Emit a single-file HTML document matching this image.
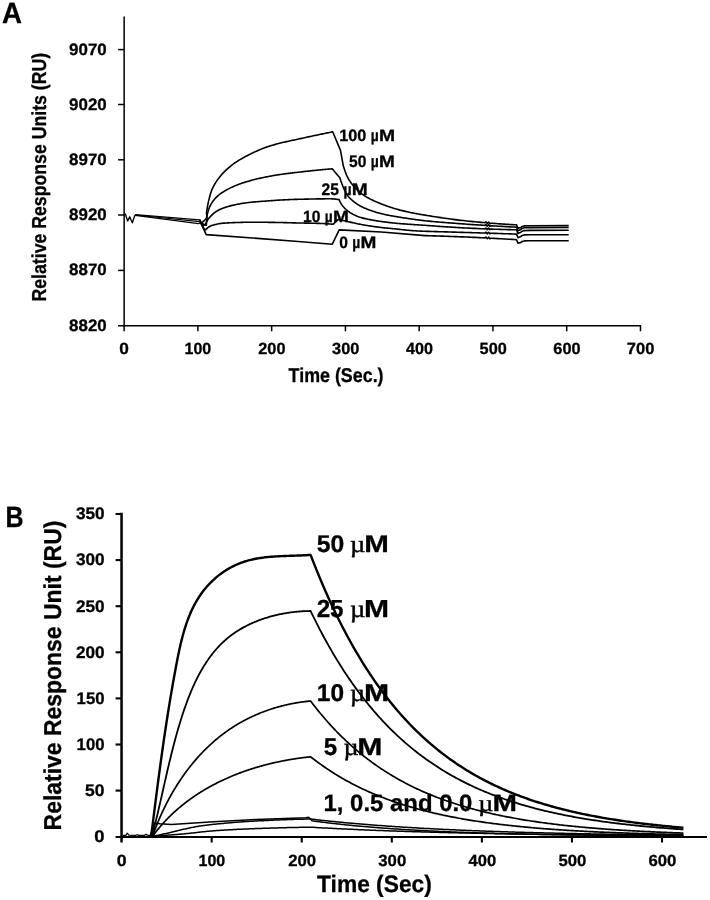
<!DOCTYPE html>
<html><head><meta charset="utf-8"><title>SPR sensorgrams</title>
<style>html,body{margin:0;padding:0;background:#fff}svg{display:block;will-change:transform;filter:grayscale(1)}text{font-family:"Liberation Sans",sans-serif;text-rendering:geometricPrecision}</style>
</head><body>
<svg width="710" height="900" viewBox="0 0 710 900">
<rect width="710" height="900" fill="#fff"/>
<line x1="124.15" y1="16.50" x2="124.15" y2="331.30" stroke="#000" stroke-width="1.5"/>
<line x1="118.10" y1="325.65" x2="641.10" y2="325.65" stroke="#000" stroke-width="1.5"/>
<line x1="118.10" y1="49.60" x2="124.15" y2="49.60" stroke="#000" stroke-width="1.5"/>
<line x1="118.10" y1="104.50" x2="124.15" y2="104.50" stroke="#000" stroke-width="1.5"/>
<line x1="118.10" y1="159.80" x2="124.15" y2="159.80" stroke="#000" stroke-width="1.5"/>
<line x1="118.10" y1="215.00" x2="124.15" y2="215.00" stroke="#000" stroke-width="1.5"/>
<line x1="118.10" y1="270.40" x2="124.15" y2="270.40" stroke="#000" stroke-width="1.5"/>
<line x1="197.91" y1="325.65" x2="197.91" y2="331.30" stroke="#000" stroke-width="1.5"/>
<line x1="271.67" y1="325.65" x2="271.67" y2="331.30" stroke="#000" stroke-width="1.5"/>
<line x1="345.43" y1="325.65" x2="345.43" y2="331.30" stroke="#000" stroke-width="1.5"/>
<line x1="419.19" y1="325.65" x2="419.19" y2="331.30" stroke="#000" stroke-width="1.5"/>
<line x1="492.95" y1="325.65" x2="492.95" y2="331.30" stroke="#000" stroke-width="1.5"/>
<line x1="566.71" y1="325.65" x2="566.71" y2="331.30" stroke="#000" stroke-width="1.5"/>
<line x1="640.47" y1="325.65" x2="640.47" y2="331.30" stroke="#000" stroke-width="1.5"/>
<g font-family="Liberation Sans" font-weight="bold" fill="#000" stroke="#000" stroke-width="0.3" stroke-linejoin="round">
<text transform="matrix(0.9418 0 0 1 1.99 23.00)" font-size="29.38">A</text>
<text transform="matrix(1.0254 0 0 1 69.09 54.60)" font-size="16.49">9070</text>
<text transform="matrix(1.0254 0 0 1 69.09 109.50)" font-size="16.49">9020</text>
<text transform="matrix(1.0254 0 0 1 69.09 164.80)" font-size="16.49">8970</text>
<text transform="matrix(1.0254 0 0 1 69.09 220.00)" font-size="16.49">8920</text>
<text transform="matrix(1.0254 0 0 1 69.09 275.40)" font-size="16.49">8870</text>
<text transform="matrix(1.0254 0 0 1 69.09 330.65)" font-size="16.49">8820</text>
<text transform="matrix(1.0667 0 0 1 119.35 353.90)" font-size="16.20">0</text>
<text transform="matrix(0.9861 0 0 1 184.57 353.90)" font-size="16.20">100</text>
<text transform="matrix(1.0058 0 0 1 258.32 353.90)" font-size="16.20">200</text>
<text transform="matrix(1.0058 0 0 1 332.08 353.90)" font-size="16.20">300</text>
<text transform="matrix(0.9962 0 0 1 406.09 353.90)" font-size="16.20">400</text>
<text transform="matrix(1.0058 0 0 1 479.60 353.90)" font-size="16.20">500</text>
<text transform="matrix(1.0058 0 0 1 553.36 353.90)" font-size="16.20">600</text>
<text transform="matrix(1.0157 0 0 1 626.86 353.90)" font-size="16.20">700</text>
<text transform="matrix(0.8967 0 0 1 288.58 382.10)" font-size="19.93">Time (Sec.)</text>
<text transform="translate(45.70 300.40) rotate(-90) translate(-1.09 0) scale(0.8752 1)" font-size="20.22">Relative Response Units (RU)</text>
<text transform="matrix(0.9864 0 0 1 339.31 140.60)" font-size="16.44">100</text>
<text transform="matrix(0.8400 0 0 1 370.66 140.60)" font-size="16.44">µ</text>
<text transform="matrix(1.1739 0 0 1 378.93 140.60)" font-size="16.44">M</text>
<text transform="matrix(0.9391 0 0 1 349.03 167.40)" font-size="16.58">50</text>
<text transform="matrix(0.8400 0 0 1 370.66 167.40)" font-size="16.58">µ</text>
<text transform="matrix(1.1489 0 0 1 378.95 167.40)" font-size="16.58">M</text>
<text transform="matrix(0.9352 0 0 1 321.43 195.30)" font-size="16.73">25</text>
<text transform="matrix(0.8400 0 0 1 343.46 195.30)" font-size="16.73">µ</text>
<text transform="matrix(1.1489 0 0 1 351.75 195.30)" font-size="16.73">M</text>
<text transform="matrix(0.9576 0 0 1 303.04 221.70)" font-size="16.29">10</text>
<text transform="matrix(0.8400 0 0 1 324.76 221.70)" font-size="16.29">µ</text>
<text transform="matrix(1.1739 0 0 1 333.03 221.70)" font-size="16.29">M</text>
<text transform="matrix(0.9419 0 0 1 339.19 247.70)" font-size="16.58">0</text>
<text transform="matrix(0.8400 0 0 1 352.16 247.70)" font-size="16.58">µ</text>
<text transform="matrix(1.1489 0 0 1 360.45 247.70)" font-size="16.58">M</text>
</g>
<polyline points="124.60,213.60 125.60,214.60 127.60,221.10 129.70,216.80 132.30,222.80 134.80,215.60 135.40,214.80" fill="none" stroke="#000" stroke-width="1.35" stroke-linejoin="round" stroke-linecap="butt" />
<polyline points="135.20,214.70 199.60,219.80 201.30,223.20" fill="none" stroke="#000" stroke-width="1.2" stroke-linejoin="round" stroke-linecap="butt" />
<polyline points="135.20,215.00 199.50,221.70 201.00,222.80" fill="none" stroke="#000" stroke-width="1.2" stroke-linejoin="round" stroke-linecap="butt" />
<polyline points="135.20,215.30 198.50,223.70 200.60,222.60" fill="none" stroke="#000" stroke-width="1.2" stroke-linejoin="round" stroke-linecap="butt" />
<polyline points="199.90,219.50 201.30,223.20 206.30,225.20 207.00,218.50 206.50,212.30 207.50,206.31 208.50,201.37 209.50,197.32 210.50,193.77 211.50,190.81 212.50,188.42 213.50,186.36 214.50,184.53 215.50,182.89 216.50,181.36 217.50,179.90 218.50,178.50 219.50,177.18 220.50,175.94 221.50,174.76 222.50,173.65 223.50,172.59 224.50,171.57 225.50,170.60 226.50,169.67 227.50,168.78 228.50,167.91 229.50,167.07 230.50,166.26 231.50,165.46 232.50,164.68 233.50,163.93 234.50,163.20 235.50,162.50 236.50,161.82 237.50,161.17 238.50,160.55 239.50,159.93 240.50,159.34 241.50,158.75 242.50,158.18 243.50,157.62 244.50,157.07 245.50,156.54 246.50,156.01 247.50,155.49 248.50,154.98 249.50,154.48 250.50,153.99 251.50,153.50 252.50,153.02 253.50,152.54 254.50,152.07 255.50,151.61 256.50,151.15 257.50,150.70 258.50,150.25 259.50,149.82 260.50,149.40 261.50,148.98 262.50,148.58 263.50,148.20 264.50,147.82 265.50,147.46 266.50,147.12 267.50,146.78 268.50,146.45 269.50,146.13 270.50,145.82 271.50,145.51 272.50,145.22 273.50,144.93 274.50,144.64 275.50,144.36 276.50,144.09 277.50,143.82 278.50,143.56 279.50,143.30 280.50,143.05 281.50,142.80 282.50,142.56 283.50,142.32 284.50,142.09 285.50,141.87 286.50,141.64 287.50,141.42 288.50,141.20 289.50,140.99 290.50,140.77 291.50,140.56 292.50,140.34 293.50,140.13 294.50,139.91 295.50,139.69 296.50,139.47 297.50,139.25 298.50,139.03 299.50,138.81 300.50,138.60 301.50,138.38 302.50,138.16 303.50,137.94 304.50,137.73 305.50,137.51 306.50,137.29 307.50,137.08 308.50,136.86 309.50,136.65 310.50,136.43 311.50,136.22 312.50,136.01 313.50,135.79 314.50,135.58 315.50,135.37 316.50,135.16 317.50,134.95 318.50,134.73 319.50,134.52 320.50,134.31 321.50,134.11 322.50,133.90 323.50,133.69 324.50,133.48 325.50,133.27 326.50,133.07 327.50,132.86 328.50,132.66 329.50,132.45 330.50,132.25 331.50,132.04 332.50,131.84 332.70,131.80 340.50,150.40 343.30,165.80 344.30,168.92 345.30,171.83 346.30,174.45 347.30,176.70 348.30,178.59 349.30,180.28 350.30,181.81 351.30,183.20 352.30,184.49 353.30,185.72 354.30,186.89 355.30,187.99 356.30,189.04 357.30,190.03 358.30,190.96 359.30,191.85 360.30,192.68 361.30,193.48 362.30,194.24 363.30,194.96 364.30,195.65 365.30,196.30 366.30,196.92 367.30,197.50 368.30,198.05 369.30,198.58 370.30,199.10 371.30,199.59 372.30,200.07 373.30,200.54 374.30,200.99 375.30,201.43 376.30,201.86 377.30,202.28 378.30,202.70 379.30,203.10 380.30,203.50 381.30,203.90 382.30,204.29 383.30,204.68 384.30,205.06 385.30,205.43 386.30,205.80 387.30,206.16 388.30,206.52 389.30,206.86 390.30,207.20 391.30,207.53 392.30,207.86 393.30,208.17 394.30,208.48 395.30,208.77 396.30,209.06 397.30,209.34 398.30,209.61 399.30,209.88 400.30,210.15 401.30,210.40 402.30,210.65 403.30,210.90 404.30,211.14 405.30,211.37 406.30,211.60 407.30,211.83 408.30,212.04 409.30,212.26 410.30,212.47 411.30,212.67 412.30,212.87 413.30,213.07 414.30,213.27 415.30,213.46 416.30,213.65 417.30,213.83 418.30,214.01 419.30,214.19 420.30,214.36 421.30,214.53 422.30,214.69 423.30,214.85 424.30,215.00 425.00,215.10 425.00,215.10 427.00,215.44 429.00,215.77 431.00,216.09 433.00,216.42 435.00,216.73 437.00,217.05 439.00,217.35 441.00,217.66 443.00,217.95 445.00,218.24 447.00,218.53 449.00,218.81 451.00,219.08 453.00,219.35 455.00,219.60 457.00,219.86 459.00,220.10 461.00,220.34 463.00,220.56 465.00,220.79 467.00,221.00 469.00,221.20 471.00,221.40 473.00,221.59 475.00,221.78 477.00,221.97 479.00,222.15 481.00,222.33 483.00,222.51 485.00,222.69 486.00,221.87 487.30,223.58 488.60,222.09 489.90,223.70 491.00,223.19 492.00,223.27 494.00,223.42 496.00,223.57 498.00,223.72 500.00,223.86 502.00,224.00 504.00,224.13 506.00,224.25 508.00,224.37 510.00,224.48 512.00,224.59 514.00,224.69 516.00,224.78 516.50,224.80 518.00,228.40 519.30,227.80 520.60,227.70 522.20,226.50 524.20,225.90 530.00,225.70 568.70,225.60" fill="none" stroke="#000" stroke-width="1.6" stroke-linejoin="round" stroke-linecap="butt" />
<polyline points="201.30,223.20 205.10,219.80 206.50,218.00 207.50,213.60 208.50,209.79 209.50,207.20 210.50,205.15 211.50,203.37 212.50,201.82 213.50,200.46 214.50,199.24 215.50,198.13 216.50,197.09 217.50,196.13 218.50,195.26 219.50,194.45 220.50,193.70 221.50,193.00 222.50,192.34 223.50,191.71 224.50,191.11 225.50,190.52 226.50,189.95 227.50,189.40 228.50,188.87 229.50,188.36 230.50,187.86 231.50,187.39 232.50,186.92 233.50,186.47 234.50,186.04 235.50,185.62 236.50,185.22 237.50,184.82 238.50,184.44 239.50,184.07 240.50,183.71 241.50,183.36 242.50,183.03 243.50,182.70 244.50,182.38 245.50,182.07 246.50,181.76 247.50,181.47 248.50,181.18 249.50,180.90 250.50,180.62 251.50,180.35 252.50,180.08 253.50,179.82 254.50,179.56 255.50,179.31 256.50,179.07 257.50,178.83 258.50,178.59 259.50,178.36 260.50,178.14 261.50,177.92 262.50,177.70 263.50,177.49 264.50,177.28 265.50,177.08 266.50,176.88 267.50,176.68 268.50,176.49 269.50,176.30 270.50,176.11 271.50,175.93 272.50,175.75 273.50,175.57 274.50,175.40 275.50,175.23 276.50,175.07 277.50,174.91 278.50,174.75 279.50,174.60 280.50,174.45 281.50,174.31 282.50,174.17 283.50,174.03 284.50,173.89 285.50,173.76 286.50,173.63 287.50,173.50 288.50,173.38 289.50,173.25 290.50,173.13 291.50,173.01 292.50,172.89 293.50,172.77 294.50,172.66 295.50,172.54 296.50,172.43 297.50,172.31 298.50,172.20 299.50,172.08 300.50,171.97 301.50,171.86 302.50,171.75 303.50,171.63 304.50,171.52 305.50,171.41 306.50,171.30 307.50,171.19 308.50,171.09 309.50,170.98 310.50,170.87 311.50,170.77 312.50,170.66 313.50,170.56 314.50,170.46 315.50,170.35 316.50,170.25 317.50,170.15 318.50,170.05 319.50,169.95 320.50,169.86 321.50,169.76 322.50,169.66 323.50,169.57 324.50,169.48 325.50,169.39 326.50,169.29 327.50,169.20 328.50,169.12 329.50,169.03 330.50,168.94 331.50,168.86 332.20,168.80 339.80,177.80 340.80,180.80 341.80,183.59 342.80,186.07 343.80,188.39 344.80,190.60 345.80,192.62 346.80,194.37 347.80,195.80 348.80,197.01 349.80,198.08 350.80,199.04 351.80,199.93 352.80,200.77 353.80,201.59 354.80,202.39 355.80,203.14 356.80,203.87 357.80,204.55 358.80,205.18 359.80,205.78 360.80,206.32 361.80,206.83 362.80,207.32 363.80,207.77 364.80,208.20 365.80,208.61 366.80,209.01 367.80,209.39 368.80,209.77 369.80,210.13 370.80,210.49 371.80,210.85 372.80,211.19 373.80,211.53 374.80,211.85 375.80,212.17 376.80,212.47 377.80,212.76 378.80,213.05 379.80,213.32 380.80,213.58 381.80,213.82 382.80,214.06 383.80,214.28 384.80,214.50 385.80,214.71 386.80,214.92 387.80,215.12 388.80,215.31 389.80,215.50 390.80,215.68 391.80,215.86 392.80,216.04 393.80,216.22 394.80,216.40 395.80,216.57 396.80,216.74 397.80,216.91 398.80,217.07 399.80,217.24 400.80,217.39 401.80,217.55 402.80,217.71 403.80,217.86 404.80,218.01 405.80,218.16 406.80,218.31 407.80,218.45 408.80,218.60 409.80,218.74 410.80,218.89 411.80,219.03 412.80,219.17 413.80,219.31 414.80,219.45 415.80,219.59 416.80,219.73 417.80,219.86 418.80,220.00 419.80,220.13 420.80,220.26 421.80,220.39 422.80,220.52 423.80,220.65 424.80,220.78 425.00,220.80 425.00,220.80 427.00,220.98 429.00,221.16 431.00,221.33 433.00,221.51 435.00,221.68 437.00,221.85 439.00,222.02 441.00,222.19 443.00,222.35 445.00,222.52 447.00,222.68 449.00,222.84 451.00,223.00 453.00,223.15 455.00,223.31 457.00,223.46 459.00,223.61 461.00,223.76 463.00,223.91 465.00,224.05 467.00,224.19 469.00,224.33 471.00,224.47 473.00,224.60 475.00,224.74 477.00,224.87 479.00,225.01 481.00,225.14 483.00,225.27 485.00,225.40 486.00,224.56 487.30,226.24 488.60,224.72 489.90,226.30 491.00,225.77 492.00,225.83 494.00,225.95 496.00,226.07 498.00,226.19 500.00,226.31 502.00,226.42 504.00,226.54 506.00,226.65 508.00,226.76 510.00,226.86 512.00,226.97 514.00,227.07 516.00,227.17 516.50,227.20 518.00,230.80 519.30,230.20 520.60,229.60 522.20,228.40 524.20,227.80 530.00,227.60 568.70,227.50" fill="none" stroke="#000" stroke-width="1.6" stroke-linejoin="round" stroke-linecap="butt" />
<polyline points="200.60,222.60 203.50,225.20 205.60,224.40 206.30,222.20 207.30,220.56 208.30,219.04 209.30,217.77 210.30,216.64 211.30,215.59 212.30,214.61 213.30,213.71 214.30,212.88 215.30,212.14 216.30,211.47 217.30,210.86 218.30,210.30 219.30,209.77 220.30,209.29 221.30,208.85 222.30,208.44 223.30,208.06 224.30,207.71 225.30,207.38 226.30,207.05 227.30,206.74 228.30,206.45 229.30,206.16 230.30,205.89 231.30,205.63 232.30,205.38 233.30,205.15 234.30,204.92 235.30,204.70 236.30,204.50 237.30,204.30 238.30,204.11 239.30,203.93 240.30,203.75 241.30,203.57 242.30,203.41 243.30,203.25 244.30,203.09 245.30,202.94 246.30,202.80 247.30,202.67 248.30,202.54 249.30,202.42 250.30,202.31 251.30,202.20 252.30,202.10 253.30,202.01 254.30,201.92 255.30,201.83 256.30,201.75 257.30,201.68 258.30,201.60 259.30,201.53 260.30,201.46 261.30,201.39 262.30,201.32 263.30,201.25 264.30,201.18 265.30,201.11 266.30,201.03 267.30,200.96 268.30,200.88 269.30,200.80 270.30,200.73 271.30,200.65 272.30,200.58 273.30,200.50 274.30,200.43 275.30,200.36 276.30,200.30 277.30,200.23 278.30,200.17 279.30,200.11 280.30,200.06 281.30,200.00 282.30,199.95 283.30,199.89 284.30,199.84 285.30,199.79 286.30,199.74 287.30,199.69 288.30,199.64 289.30,199.60 290.30,199.56 291.30,199.52 292.30,199.48 293.30,199.45 294.30,199.42 295.30,199.39 296.30,199.37 297.30,199.34 298.30,199.31 299.30,199.29 300.30,199.26 301.30,199.24 302.30,199.21 303.30,199.19 304.30,199.17 305.30,199.14 306.30,199.12 307.30,199.10 308.30,199.08 309.30,199.06 310.30,199.03 311.30,199.01 312.30,198.99 313.30,198.98 314.30,198.96 315.30,198.94 316.30,198.92 317.30,198.91 318.30,198.89 319.30,198.88 320.30,198.87 321.30,198.86 322.30,198.85 323.30,198.84 324.30,198.83 325.30,198.82 326.30,198.81 327.30,198.81 328.30,198.80 329.30,198.80 330.30,198.80 331.30,198.81 332.30,198.84 333.30,198.91 334.30,199.01 335.30,199.12 336.30,199.24 337.30,199.37 338.30,199.50 339.10,199.60 340.10,201.85 341.10,203.74 342.10,205.19 343.10,206.46 344.10,207.59 345.10,208.59 346.10,209.50 347.10,210.35 348.10,211.14 349.10,211.88 350.10,212.57 351.10,213.21 352.10,213.80 353.10,214.35 354.10,214.85 355.10,215.33 356.10,215.77 357.10,216.19 358.10,216.58 359.10,216.94 360.10,217.27 361.10,217.57 362.10,217.86 363.10,218.13 364.10,218.38 365.10,218.62 366.10,218.84 367.10,219.06 368.10,219.27 369.10,219.47 370.10,219.66 371.10,219.85 372.10,220.03 373.10,220.21 374.10,220.38 375.10,220.55 376.10,220.72 377.10,220.87 378.10,221.03 379.10,221.18 380.10,221.33 381.10,221.47 382.10,221.61 383.10,221.75 384.10,221.89 385.10,222.02 386.10,222.15 387.10,222.28 388.10,222.40 389.10,222.52 390.10,222.64 391.10,222.75 392.10,222.86 393.10,222.97 394.10,223.07 395.10,223.17 396.10,223.27 397.10,223.36 398.10,223.44 399.10,223.53 400.10,223.61 401.10,223.69 402.10,223.77 403.10,223.84 404.10,223.92 405.10,223.99 406.10,224.06 407.10,224.13 408.10,224.20 409.10,224.27 410.10,224.34 411.10,224.41 412.10,224.48 413.10,224.55 414.10,224.62 415.10,224.68 416.10,224.75 417.10,224.82 418.10,224.88 419.10,224.94 420.10,225.01 421.10,225.07 422.10,225.13 423.10,225.19 424.10,225.25 425.00,225.30 425.00,225.30 427.00,225.46 429.00,225.61 431.00,225.77 433.00,225.92 435.00,226.07 437.00,226.21 439.00,226.36 441.00,226.50 443.00,226.64 445.00,226.78 447.00,226.91 449.00,227.04 451.00,227.17 453.00,227.29 455.00,227.41 457.00,227.53 459.00,227.64 461.00,227.75 463.00,227.86 465.00,227.96 467.00,228.06 469.00,228.15 471.00,228.24 473.00,228.33 475.00,228.42 477.00,228.51 479.00,228.59 481.00,228.68 483.00,228.76 485.00,228.84 486.00,227.98 487.30,229.63 488.60,228.08 489.90,229.63 491.00,229.07 492.00,229.11 494.00,229.18 496.00,229.25 498.00,229.31 500.00,229.38 502.00,229.44 504.00,229.50 506.00,229.55 508.00,229.61 510.00,229.66 512.00,229.71 514.00,229.75 516.00,229.79 516.50,229.80 518.00,233.40 519.30,232.80 520.60,232.40 522.20,231.20 524.20,230.60 530.00,230.40 568.70,230.30" fill="none" stroke="#000" stroke-width="1.6" stroke-linejoin="round" stroke-linecap="butt" />
<polyline points="200.60,222.60 204.20,229.00 205.60,229.90 206.60,228.81 207.60,227.81 208.60,227.00 209.60,226.45 210.60,225.98 211.60,225.58 212.60,225.23 213.60,224.92 214.60,224.65 215.60,224.41 216.60,224.19 217.60,223.99 218.60,223.81 219.60,223.64 220.60,223.49 221.60,223.36 222.60,223.25 223.60,223.17 224.60,223.09 225.60,223.02 226.60,222.96 227.60,222.90 228.60,222.84 229.60,222.79 230.60,222.75 231.60,222.70 232.60,222.66 233.60,222.62 234.60,222.59 235.60,222.55 236.60,222.52 237.60,222.49 238.60,222.46 239.60,222.43 240.60,222.40 241.60,222.37 242.60,222.34 243.60,222.32 244.60,222.29 245.60,222.27 246.60,222.25 247.60,222.23 248.60,222.22 249.60,222.21 250.60,222.20 251.60,222.20 252.60,222.20 253.60,222.20 254.60,222.21 255.60,222.21 256.60,222.22 257.60,222.22 258.60,222.23 259.60,222.24 260.60,222.24 261.60,222.25 262.60,222.26 263.60,222.27 264.60,222.29 265.60,222.30 266.60,222.31 267.60,222.32 268.60,222.34 269.60,222.35 270.60,222.36 271.60,222.38 272.60,222.39 273.60,222.41 274.60,222.42 275.60,222.44 276.60,222.45 277.60,222.47 278.60,222.49 279.60,222.50 280.60,222.52 281.60,222.54 282.60,222.56 283.60,222.58 284.60,222.61 285.60,222.64 286.60,222.66 287.60,222.69 288.60,222.72 289.60,222.75 290.60,222.78 291.60,222.81 292.60,222.84 293.60,222.86 294.60,222.89 295.60,222.91 296.60,222.94 297.60,222.96 298.60,222.98 299.60,223.00 300.60,223.02 301.60,223.04 302.60,223.06 303.60,223.07 304.60,223.09 305.60,223.11 306.60,223.13 307.60,223.14 308.60,223.16 309.60,223.18 310.60,223.20 311.60,223.22 312.60,223.24 313.60,223.26 314.60,223.28 315.60,223.30 316.60,223.33 317.60,223.35 318.60,223.38 319.60,223.41 320.60,223.44 321.60,223.47 322.60,223.51 323.60,223.54 324.60,223.58 325.60,223.63 326.60,223.69 327.60,223.77 328.60,223.85 329.60,223.95 330.60,224.05 331.60,224.16 332.60,224.26 333.00,224.30 338.30,219.40 339.30,219.63 340.30,219.86 341.30,220.09 342.30,220.32 343.30,220.55 344.30,220.78 345.30,221.00 346.30,221.23 347.30,221.46 348.30,221.68 349.30,221.91 350.30,222.14 351.30,222.38 352.30,222.61 353.30,222.84 354.30,223.07 355.30,223.29 356.30,223.51 357.30,223.73 358.30,223.93 359.30,224.13 360.30,224.32 361.30,224.50 362.30,224.68 363.30,224.85 364.30,225.03 365.30,225.20 366.30,225.36 367.30,225.53 368.30,225.69 369.30,225.85 370.30,226.00 371.30,226.15 372.30,226.30 373.30,226.45 374.30,226.59 375.30,226.73 376.30,226.87 377.30,227.00 378.30,227.13 379.30,227.26 380.30,227.38 381.30,227.50 382.30,227.62 383.30,227.73 384.30,227.83 385.30,227.93 386.30,228.03 387.30,228.13 388.30,228.22 389.30,228.32 390.30,228.41 391.30,228.50 392.30,228.60 393.30,228.69 394.30,228.79 395.30,228.89 396.30,228.99 397.30,229.10 398.30,229.22 399.30,229.33 400.30,229.45 401.30,229.56 402.30,229.68 403.30,229.79 404.30,229.91 405.30,230.01 406.30,230.12 407.30,230.21 408.30,230.30 409.30,230.38 410.30,230.46 411.30,230.53 412.30,230.61 413.30,230.68 414.30,230.74 415.30,230.81 416.30,230.87 417.30,230.94 418.30,230.99 419.30,231.05 420.30,231.10 421.30,231.15 422.30,231.20 423.30,231.24 424.30,231.28 425.00,231.30 425.00,231.30 427.00,231.35 429.00,231.41 431.00,231.46 433.00,231.52 435.00,231.58 437.00,231.63 439.00,231.69 441.00,231.75 443.00,231.80 445.00,231.86 447.00,231.92 449.00,231.98 451.00,232.03 453.00,232.09 455.00,232.15 457.00,232.21 459.00,232.27 461.00,232.33 463.00,232.39 465.00,232.45 467.00,232.51 469.00,232.57 471.00,232.63 473.00,232.69 475.00,232.75 477.00,232.82 479.00,232.88 481.00,232.94 483.00,233.00 485.00,233.07 486.00,232.20 487.30,233.84 488.60,232.28 489.90,233.82 491.00,233.26 492.00,233.29 494.00,233.35 496.00,233.42 498.00,233.48 500.00,233.55 502.00,233.61 504.00,233.68 506.00,233.75 508.00,233.81 510.00,233.88 512.00,233.95 514.00,234.02 516.00,234.08 516.50,234.10 518.00,237.70 519.30,237.10 520.60,236.70 522.20,235.50 524.20,234.90 530.00,234.70 568.70,234.70" fill="none" stroke="#000" stroke-width="1.6" stroke-linejoin="round" stroke-linecap="butt" />
<polyline points="200.60,222.40 206.20,234.60 295.00,241.20 332.30,244.20 339.20,229.90 381.30,232.00 425.00,235.60 425.00,235.60 427.00,235.65 429.00,235.71 431.00,235.77 433.00,235.83 435.00,235.89 437.00,235.95 439.00,236.02 441.00,236.08 443.00,236.15 445.00,236.22 447.00,236.29 449.00,236.36 451.00,236.44 453.00,236.51 455.00,236.59 457.00,236.67 459.00,236.75 461.00,236.83 463.00,236.91 465.00,236.99 467.00,237.07 469.00,237.16 471.00,237.24 473.00,237.33 475.00,237.42 477.00,237.51 479.00,237.61 481.00,237.70 483.00,237.80 485.00,237.90 486.00,237.05 487.30,238.72 488.60,237.18 489.90,238.75 491.00,238.21 492.00,238.26 494.00,238.37 496.00,238.48 498.00,238.59 500.00,238.71 502.00,238.82 504.00,238.94 506.00,239.06 508.00,239.18 510.00,239.30 512.00,239.42 514.00,239.54 516.00,239.67 516.50,239.70 518.00,243.30 519.30,242.70 520.60,242.70 522.20,241.50 524.20,240.90 530.00,240.70 568.70,240.70" fill="none" stroke="#000" stroke-width="1.6" stroke-linejoin="round" stroke-linecap="butt" />
<line x1="121.55" y1="512.80" x2="121.55" y2="842.50" stroke="#000" stroke-width="2.5"/>
<line x1="115.60" y1="837.00" x2="707.00" y2="837.00" stroke="#000" stroke-width="2.2"/>
<line x1="115.60" y1="514.00" x2="121.55" y2="514.00" stroke="#000" stroke-width="2.1"/>
<line x1="115.60" y1="560.10" x2="121.55" y2="560.10" stroke="#000" stroke-width="2.1"/>
<line x1="115.60" y1="606.20" x2="121.55" y2="606.20" stroke="#000" stroke-width="2.1"/>
<line x1="115.60" y1="652.30" x2="121.55" y2="652.30" stroke="#000" stroke-width="2.1"/>
<line x1="115.60" y1="698.40" x2="121.55" y2="698.40" stroke="#000" stroke-width="2.1"/>
<line x1="115.60" y1="744.50" x2="121.55" y2="744.50" stroke="#000" stroke-width="2.1"/>
<line x1="115.60" y1="790.60" x2="121.55" y2="790.60" stroke="#000" stroke-width="2.1"/>
<line x1="211.67" y1="837.00" x2="211.67" y2="842.50" stroke="#000" stroke-width="2.1"/>
<line x1="301.74" y1="837.00" x2="301.74" y2="842.50" stroke="#000" stroke-width="2.1"/>
<line x1="391.81" y1="837.00" x2="391.81" y2="842.50" stroke="#000" stroke-width="2.1"/>
<line x1="481.88" y1="837.00" x2="481.88" y2="842.50" stroke="#000" stroke-width="2.1"/>
<line x1="571.95" y1="837.00" x2="571.95" y2="842.50" stroke="#000" stroke-width="2.1"/>
<line x1="662.02" y1="837.00" x2="662.02" y2="842.50" stroke="#000" stroke-width="2.1"/>
<g font-family="Liberation Sans" font-weight="bold" fill="#000" stroke="#000" stroke-width="0.3" stroke-linejoin="round">
<text transform="matrix(0.8507 0 0 1 5.50 527.00)" font-size="29.38">B</text>
<text transform="matrix(1.0243 0 0 1 75.89 519.30)" font-size="16.77">350</text>
<text transform="matrix(1.0243 0 0 1 75.89 565.40)" font-size="16.77">300</text>
<text transform="matrix(1.0243 0 0 1 75.89 611.50)" font-size="16.77">250</text>
<text transform="matrix(1.0243 0 0 1 75.89 657.60)" font-size="16.77">200</text>
<text transform="matrix(0.9981 0 0 1 76.60 703.70)" font-size="16.77">150</text>
<text transform="matrix(0.9981 0 0 1 76.60 749.80)" font-size="16.77">100</text>
<text transform="matrix(1.0400 0 0 1 85.08 795.90)" font-size="16.77">50</text>
<text transform="matrix(1.1000 0 0 1 94.17 841.90)" font-size="16.77">0</text>
<text transform="matrix(1.0933 0 0 1 116.68 866.20)" font-size="16.20">0</text>
<text transform="matrix(0.9901 0 0 1 198.48 866.20)" font-size="16.20">100</text>
<text transform="matrix(1.0330 0 0 1 288.22 866.20)" font-size="16.20">200</text>
<text transform="matrix(1.0330 0 0 1 378.29 866.20)" font-size="16.20">300</text>
<text transform="matrix(1.0231 0 0 1 468.62 866.20)" font-size="16.20">400</text>
<text transform="matrix(1.0330 0 0 1 558.43 866.20)" font-size="16.20">500</text>
<text transform="matrix(1.0330 0 0 1 648.50 866.20)" font-size="16.20">600</text>
<text transform="matrix(0.9549 0 0 1 317.06 892.30)" font-size="23.85">Time (Sec)</text>
<text transform="translate(60.50 828.80) rotate(-90) translate(-1.64 0) scale(0.9389 1)" font-size="24.44">Relative Response Unit (RU)</text>
<text transform="matrix(1.0240 0 0 1 316.63 552.20)" font-size="24.15">50</text>
<text transform="matrix(1.1020 0 0 1 350.07 552.20)" font-size="24.15"><tspan font-family="Liberation Serif" font-weight="normal" stroke-width="0.45">µ</tspan></text>
<text transform="matrix(1.2235 0 0 1 364.26 552.20)" font-size="24.15">M</text>
<text transform="matrix(0.9846 0 0 1 316.66 617.00)" font-size="24.58">25</text>
<text transform="matrix(1.0800 0 0 1 350.09 617.00)" font-size="24.58"><tspan font-family="Liberation Serif" font-weight="normal" stroke-width="0.45">µ</tspan></text>
<text transform="matrix(1.2235 0 0 1 363.96 617.00)" font-size="24.58">M</text>
<text transform="matrix(1.0082 0 0 1 316.79 701.20)" font-size="24.29">10</text>
<text transform="matrix(1.0800 0 0 1 350.09 701.20)" font-size="24.29"><tspan font-family="Liberation Serif" font-weight="normal" stroke-width="0.45">µ</tspan></text>
<text transform="matrix(1.2418 0 0 1 363.93 701.20)" font-size="24.29">M</text>
<text transform="matrix(0.9917 0 0 1 323.66 755.10)" font-size="24.29">5</text>
<text transform="matrix(1.0800 0 0 1 343.39 755.10)" font-size="24.29"><tspan font-family="Liberation Serif" font-weight="normal" stroke-width="0.45">µ</tspan></text>
<text transform="matrix(1.2418 0 0 1 357.23 755.10)" font-size="24.29">M</text>
<text transform="matrix(1.0090 0 0 1 323.49 811.30)" font-size="23.71">1, 0.5 and 0.0</text>
<text transform="matrix(1.1020 0 0 1 478.37 811.30)" font-size="23.71"><tspan font-family="Liberation Serif" font-weight="normal" stroke-width="0.45">µ</tspan></text>
<text transform="matrix(1.2418 0 0 1 492.54 811.30)" font-size="23.71">M</text>
</g>
<polyline points="122.50,835.40 125.80,835.30 127.30,833.20 128.80,835.20 136.00,835.30 137.20,834.70 138.50,835.40 144.50,835.30 146.00,834.20 147.30,835.20 150.20,835.60 151.20,836.00" fill="none" stroke="#000" stroke-width="1.2" stroke-linejoin="round" stroke-linecap="butt" />
<polyline points="151.20,836.20 151.36,834.94 151.51,833.68 151.67,832.42 151.83,831.16 151.98,829.90 152.14,828.64 152.30,827.39 152.45,826.13 152.61,824.88 152.77,823.63 152.92,822.38 153.08,821.13 153.23,819.88 153.39,818.64 153.55,817.39 153.70,816.15 153.86,814.91 154.01,813.67 154.17,812.43 154.33,811.19 154.48,809.95 154.64,808.71 154.79,807.47 154.95,806.24 155.11,805.00 155.26,803.77 155.42,802.54 155.58,801.31 155.73,800.08 155.89,798.85 156.05,797.62 156.20,796.39 156.36,795.16 156.52,793.94 156.68,792.71 156.84,791.49 156.99,790.26 157.15,789.04 157.31,787.82 157.47,786.60 157.63,785.37 157.79,784.15 157.95,782.93 158.11,781.72 158.27,780.50 158.43,779.28 158.59,778.06 158.75,776.85 158.91,775.63 159.08,774.41 159.24,773.20 159.40,771.98 159.56,770.77 159.73,769.55 159.89,768.34 160.06,767.13 160.22,765.92 160.39,764.70 160.55,763.49 160.72,762.28 160.88,761.07 161.05,759.86 161.22,758.65 161.39,757.44 161.55,756.23 161.72,755.02 161.89,753.81 162.06,752.60 162.23,751.39 162.40,750.18 162.58,748.97 162.75,747.76 162.92,746.55 163.09,745.34 163.27,744.13 163.44,742.92 163.62,741.71 163.79,740.51 163.97,739.30 164.15,738.09 164.32,736.88 164.50,735.67 164.68,734.46 164.86,733.25 165.04,732.04 165.22,730.83 165.41,729.62 165.59,728.41 165.77,727.20 165.96,725.99 166.14,724.78 166.33,723.57 166.51,722.36 166.70,721.14 166.89,719.93 167.08,718.72 167.27,717.51 167.46,716.29 167.65,715.08 167.84,713.87 168.03,712.65 168.23,711.44 168.42,710.22 168.62,709.01 168.82,707.79 169.01,706.57 169.21,705.36 169.41,704.14 169.61,702.92 169.81,701.70 170.02,700.48 170.22,699.26 170.42,698.04 170.63,696.82 170.83,695.59 171.04,694.37 171.25,693.15 171.46,691.92 171.67,690.70 171.88,689.47 172.09,688.24 172.31,687.01 172.52,685.78 172.74,684.55 172.96,683.32 173.17,682.09 173.39,680.86 173.61,679.63 173.84,678.39 174.06,677.16 174.28,675.92 174.51,674.68 174.73,673.44 174.96,672.20 175.19,670.96 175.42,669.72 175.65,668.48 175.88,667.23 176.12,665.99 176.35,664.74 176.59,663.50 176.83,662.25 177.07,661.00 177.31,659.75 177.56,658.50 177.80,657.25 178.05,656.01 178.31,654.76 178.57,653.51 178.83,652.26 179.09,651.02 179.36,649.77 179.63,648.53 179.91,647.28 180.19,646.04 180.47,644.80 180.76,643.57 181.06,642.33 181.36,641.10 181.67,639.86 181.98,638.64 182.30,637.41 182.62,636.19 182.95,634.97 183.29,633.75 183.63,632.54 183.98,631.33 184.34,630.12 184.70,628.92 185.07,627.72 185.45,626.52 185.84,625.33 186.24,624.15 186.64,622.97 187.05,621.79 187.48,620.62 187.91,619.46 188.35,618.30 188.79,617.14 189.25,615.99 189.72,614.85 190.20,613.71 190.69,612.58 191.18,611.46 191.69,610.34 192.21,609.23 192.74,608.12 193.28,607.03 193.84,605.94 194.40,604.85 194.98,603.78 195.56,602.71 196.16,601.65 196.78,600.60 197.40,599.55 198.04,598.52 198.69,597.49 199.35,596.48 200.03,595.47 200.72,594.47 201.42,593.48 202.14,592.50 202.87,591.52 203.61,590.56 204.37,589.61 205.14,588.67 205.92,587.74 206.71,586.82 207.51,585.91 208.33,585.01 209.16,584.12 210.00,583.24 210.86,582.38 211.72,581.53 212.60,580.68 213.48,579.86 214.38,579.04 215.29,578.23 216.21,577.44 217.15,576.66 218.09,575.90 219.04,575.14 220.01,574.40 220.98,573.68 221.97,572.96 222.96,572.26 223.97,571.58 224.98,570.91 226.01,570.25 227.04,569.61 228.09,568.98 229.14,568.37 230.20,567.78 231.28,567.20 232.36,566.63 233.45,566.08 234.55,565.55 235.66,565.03 236.77,564.53 237.90,564.04 239.03,563.57 240.18,563.12 241.33,562.69 242.49,562.27 243.65,561.87 244.83,561.49 246.01,561.13 247.20,560.78 248.40,560.45 249.60,560.13 250.81,559.83 252.03,559.55 253.25,559.28 254.48,559.02 255.71,558.78 256.95,558.55 258.19,558.34 259.43,558.13 260.68,557.94 261.94,557.76 263.20,557.59 264.46,557.43 265.72,557.29 266.99,557.15 268.26,557.02 269.53,556.90 270.80,556.79 272.07,556.68 273.35,556.59 274.62,556.50 275.90,556.41 277.17,556.34 278.45,556.26 279.72,556.20 281.00,556.14 282.27,556.08 283.54,556.03 284.81,555.98 286.08,555.93 287.35,555.88 288.61,555.84 289.88,555.80 291.13,555.76 292.39,555.72 293.64,555.68 294.89,555.64 296.13,555.60 297.37,555.56 298.60,555.52 299.83,555.47 301.05,555.43 302.27,555.37 303.48,555.32 304.68,555.26 305.88,555.20 307.07,555.13 308.26,555.06 309.43,554.98 310.60,554.90 312.10,558.79 313.60,562.62 315.10,566.40 316.60,570.12 318.10,573.80 319.60,577.42 321.10,581.00 322.60,584.52 324.10,588.00 325.60,591.43 327.10,594.81 328.60,598.15 330.10,601.44 331.60,604.68 333.10,607.88 334.60,611.03 336.10,614.14 337.60,617.21 339.10,620.24 340.60,623.22 342.10,626.17 343.60,629.07 345.10,631.93 346.60,634.75 348.10,637.54 349.60,640.28 351.10,642.99 352.60,645.66 354.10,648.29 355.60,650.89 357.10,653.45 358.60,655.98 360.10,658.47 361.60,660.93 363.10,663.35 364.60,665.74 366.10,668.10 367.60,670.42 369.10,672.71 370.60,674.97 372.10,677.20 373.60,679.40 375.10,681.57 376.60,683.71 378.10,685.82 379.60,687.90 381.10,689.95 382.60,691.97 384.10,693.97 385.60,695.93 387.10,697.87 388.60,699.79 390.10,701.67 391.60,703.53 393.10,705.37 394.60,707.18 396.10,708.96 397.60,710.73 399.10,712.46 400.60,714.17 402.10,715.86 403.60,717.53 405.10,719.17 406.60,720.79 408.10,722.39 409.60,723.96 411.10,725.52 412.60,727.05 414.10,728.56 415.60,730.05 417.10,731.52 418.60,732.97 420.10,734.40 421.60,735.81 423.10,737.20 424.60,738.57 426.10,739.92 427.60,741.25 429.10,742.57 430.60,743.87 432.10,745.15 433.60,746.41 435.10,747.65 436.60,748.88 438.10,750.09 439.60,751.28 441.10,752.46 442.60,753.62 444.10,754.76 445.60,755.89 447.10,757.00 448.60,758.10 450.10,759.19 451.60,760.25 453.10,761.31 454.60,762.34 456.10,763.37 457.60,764.38 459.10,765.38 460.60,766.36 462.10,767.33 463.60,768.28 465.10,769.22 466.60,770.15 468.10,771.07 469.60,771.97 471.10,772.87 472.60,773.74 474.10,774.61 475.60,775.47 477.10,776.31 478.60,777.14 480.10,777.96 481.60,778.77 483.10,779.57 484.60,780.35 486.10,781.13 487.60,781.90 489.10,782.65 490.60,783.39 492.10,784.13 493.60,784.85 495.10,785.57 496.60,786.27 498.10,786.96 499.60,787.65 501.10,788.32 502.60,788.99 504.10,789.65 505.60,790.29 507.10,790.93 508.60,791.56 510.10,792.18 511.60,792.80 513.10,793.40 514.60,794.00 516.10,794.58 517.60,795.16 519.10,795.73 520.60,796.30 522.10,796.85 523.60,797.40 525.10,797.94 526.60,798.48 528.10,799.00 529.60,799.52 531.10,800.03 532.60,800.54 534.10,801.03 535.60,801.52 537.10,802.01 538.60,802.49 540.10,802.96 541.60,803.42 543.10,803.88 544.60,804.33 546.10,804.77 547.60,805.21 549.10,805.65 550.60,806.07 552.10,806.49 553.60,806.91 555.10,807.32 556.60,807.72 558.10,808.12 559.60,808.51 561.10,808.90 562.60,809.28 564.10,809.66 565.60,810.03 567.10,810.40 568.60,810.76 570.10,811.12 571.60,811.47 573.10,811.81 574.60,812.16 576.10,812.49 577.60,812.83 579.10,813.15 580.60,813.48 582.10,813.80 583.60,814.11 585.10,814.42 586.60,814.73 588.10,815.03 589.60,815.33 591.10,815.62 592.60,815.91 594.10,816.19 595.60,816.48 597.10,816.75 598.60,817.03 600.10,817.30 601.60,817.56 603.10,817.83 604.60,818.08 606.10,818.34 607.60,818.59 609.10,818.84 610.60,819.08 612.10,819.33 613.60,819.56 615.10,819.80 616.60,820.03 618.10,820.26 619.60,820.49 621.10,820.71 622.60,820.93 624.10,821.14 625.60,821.36 627.10,821.57 628.60,821.77 630.10,821.98 631.60,822.18 633.10,822.38 634.60,822.57 636.10,822.77 637.60,822.96 639.10,823.15 640.60,823.33 642.10,823.52 643.60,823.70 645.10,823.87 646.60,824.05 648.10,824.22 649.60,824.39 651.10,824.56 652.60,824.73 654.10,824.89 655.60,825.05 657.10,825.21 658.60,825.37 660.10,825.52 661.60,825.68 663.10,825.83 664.60,825.98 666.10,826.12 667.60,826.27 669.10,826.41 670.60,826.55 672.10,826.69 673.60,826.83 675.10,826.96 676.60,827.09 678.10,827.22 679.60,827.35 681.10,827.48 682.60,827.61 683.40,827.67" fill="none" stroke="#000" stroke-width="2.4" stroke-linejoin="round" stroke-linecap="butt" />
<polyline points="152.00,836.20 152.26,835.21 152.52,834.22 152.78,833.23 153.03,832.25 153.29,831.26 153.54,830.27 153.79,829.28 154.04,828.29 154.29,827.30 154.54,826.32 154.78,825.33 155.03,824.34 155.27,823.35 155.52,822.36 155.76,821.38 156.00,820.39 156.24,819.40 156.47,818.41 156.71,817.42 156.95,816.44 157.18,815.45 157.42,814.46 157.65,813.47 157.88,812.49 158.11,811.50 158.35,810.51 158.58,809.52 158.81,808.53 159.03,807.55 159.26,806.56 159.49,805.57 159.72,804.58 159.94,803.60 160.17,802.61 160.39,801.62 160.62,800.63 160.84,799.65 161.07,798.66 161.29,797.67 161.52,796.68 161.74,795.70 161.96,794.71 162.19,793.72 162.41,792.74 162.63,791.75 162.85,790.76 163.08,789.77 163.30,788.79 163.52,787.80 163.74,786.81 163.97,785.83 164.19,784.84 164.41,783.85 164.64,782.86 164.86,781.88 165.08,780.89 165.31,779.90 165.53,778.92 165.76,777.93 165.98,776.94 166.21,775.96 166.43,774.97 166.66,773.98 166.89,772.99 167.11,772.01 167.34,771.02 167.57,770.03 167.80,769.05 168.03,768.06 168.26,767.07 168.49,766.09 168.73,765.10 168.96,764.11 169.19,763.13 169.43,762.14 169.66,761.15 169.90,760.17 170.14,759.18 170.38,758.19 170.62,757.21 170.86,756.22 171.10,755.23 171.35,754.25 171.59,753.26 171.84,752.28 172.09,751.29 172.33,750.30 172.59,749.32 172.84,748.33 173.09,747.34 173.34,746.36 173.60,745.37 173.86,744.38 174.12,743.40 174.38,742.41 174.64,741.42 174.90,740.44 175.17,739.45 175.44,738.47 175.71,737.48 175.98,736.49 176.25,735.51 176.53,734.52 176.80,733.53 177.08,732.55 177.36,731.56 177.65,730.58 177.93,729.59 178.22,728.60 178.51,727.62 178.80,726.63 179.09,725.64 179.39,724.66 179.68,723.67 179.99,722.69 180.29,721.70 180.59,720.71 180.90,719.73 181.21,718.74 181.52,717.76 181.84,716.77 182.15,715.78 182.47,714.80 182.80,713.81 183.12,712.83 183.45,711.84 183.78,710.86 184.11,709.87 184.45,708.89 184.79,707.91 185.13,706.93 185.48,705.95 185.83,704.97 186.18,703.99 186.54,703.01 186.89,702.04 187.26,701.06 187.62,700.09 187.99,699.12 188.36,698.15 188.74,697.18 189.12,696.21 189.50,695.25 189.89,694.29 190.28,693.32 190.67,692.37 191.07,691.41 191.47,690.46 191.88,689.50 192.29,688.56 192.70,687.61 193.12,686.66 193.55,685.72 193.97,684.78 194.40,683.85 194.84,682.92 195.28,681.99 195.72,681.06 196.17,680.14 196.63,679.22 197.08,678.30 197.55,677.39 198.01,676.48 198.49,675.57 198.96,674.67 199.44,673.77 199.93,672.87 200.42,671.98 200.92,671.10 201.42,670.21 201.93,669.33 202.44,668.46 202.96,667.59 203.48,666.72 204.01,665.86 204.54,665.01 205.08,664.16 205.62,663.31 206.17,662.47 206.73,661.63 207.29,660.80 207.86,659.97 208.43,659.15 209.01,658.33 209.59,657.52 210.18,656.72 210.78,655.92 211.38,655.12 211.99,654.34 212.60,653.55 213.22,652.78 213.85,652.01 214.48,651.24 215.12,650.48 215.76,649.73 216.42,648.98 217.07,648.24 217.74,647.51 218.41,646.78 219.09,646.06 219.77,645.35 220.47,644.64 221.16,643.94 221.87,643.25 222.58,642.57 223.30,641.89 224.03,641.22 224.76,640.55 225.50,639.90 226.25,639.25 227.00,638.61 227.76,637.97 228.53,637.35 229.31,636.73 230.09,636.12 230.88,635.51 231.68,634.92 232.49,634.33 233.30,633.75 234.11,633.18 234.94,632.61 235.77,632.06 236.61,631.51 237.45,630.97 238.30,630.43 239.15,629.91 240.02,629.39 240.88,628.88 241.76,628.37 242.63,627.88 243.52,627.39 244.41,626.91 245.30,626.43 246.20,625.97 247.10,625.51 248.01,625.06 248.93,624.61 249.85,624.17 250.77,623.75 251.70,623.32 252.63,622.91 253.57,622.50 254.51,622.10 255.45,621.71 256.40,621.32 257.36,620.95 258.31,620.58 259.27,620.21 260.24,619.86 261.20,619.51 262.17,619.17 263.15,618.83 264.12,618.51 265.10,618.19 266.09,617.87 267.07,617.57 268.06,617.27 269.05,616.98 270.04,616.69 271.04,616.42 272.04,616.15 273.04,615.88 274.04,615.63 275.05,615.38 276.05,615.14 277.06,614.90 278.07,614.67 279.08,614.45 280.09,614.24 281.11,614.03 282.12,613.83 283.14,613.64 284.15,613.45 285.17,613.27 286.19,613.10 287.21,612.94 288.23,612.78 289.25,612.63 290.27,612.48 291.29,612.34 292.31,612.21 293.33,612.09 294.36,611.97 295.38,611.86 296.40,611.76 297.42,611.66 298.44,611.57 299.46,611.48 300.48,611.41 301.49,611.34 302.51,611.27 303.53,611.22 304.54,611.16 305.55,611.12 306.57,611.08 307.58,611.05 308.59,611.03 309.59,611.01 310.60,611.00 312.10,614.11 313.60,617.18 315.10,620.21 316.60,623.19 318.10,626.14 319.60,629.04 321.10,631.90 322.60,634.72 324.10,637.51 325.60,640.25 327.10,642.96 328.60,645.63 330.10,648.27 331.60,650.87 333.10,653.43 334.60,655.95 336.10,658.45 337.60,660.90 339.10,663.33 340.60,665.72 342.10,668.07 343.60,670.40 345.10,672.69 346.60,674.95 348.10,677.18 349.60,679.38 351.10,681.55 352.60,683.69 354.10,685.80 355.60,687.88 357.10,689.93 358.60,691.95 360.10,693.94 361.60,695.91 363.10,697.85 364.60,699.77 366.10,701.65 367.60,703.52 369.10,705.35 370.60,707.16 372.10,708.95 373.60,710.71 375.10,712.44 376.60,714.16 378.10,715.85 379.60,717.51 381.10,719.15 382.60,720.77 384.10,722.37 385.60,723.95 387.10,725.50 388.60,727.03 390.10,728.54 391.60,730.03 393.10,731.50 394.60,732.95 396.10,734.38 397.60,735.79 399.10,737.18 400.60,738.55 402.10,739.91 403.60,741.24 405.10,742.56 406.60,743.85 408.10,745.13 409.60,746.39 411.10,747.64 412.60,748.87 414.10,750.08 415.60,751.27 417.10,752.45 418.60,753.61 420.10,754.75 421.60,755.88 423.10,756.99 424.60,758.09 426.10,759.17 427.60,760.24 429.10,761.30 430.60,762.33 432.10,763.36 433.60,764.37 435.10,765.36 436.60,766.35 438.10,767.32 439.60,768.27 441.10,769.21 442.60,770.14 444.10,771.06 445.60,771.96 447.10,772.86 448.60,773.74 450.10,774.60 451.60,775.46 453.10,776.30 454.60,777.13 456.10,777.95 457.60,778.76 459.10,779.56 460.60,780.35 462.10,781.12 463.60,781.89 465.10,782.64 466.60,783.39 468.10,784.12 469.60,784.84 471.10,785.56 472.60,786.26 474.10,786.96 475.60,787.64 477.10,788.32 478.60,788.98 480.10,789.64 481.60,790.29 483.10,790.93 484.60,791.56 486.10,792.18 487.60,792.79 489.10,793.39 490.60,793.99 492.10,794.58 493.60,795.16 495.10,795.73 496.60,796.29 498.10,796.85 499.60,797.40 501.10,797.94 502.60,798.47 504.10,799.00 505.60,799.52 507.10,800.03 508.60,800.53 510.10,801.03 511.60,801.52 513.10,802.00 514.60,802.48 516.10,802.95 517.60,803.42 519.10,803.87 520.60,804.32 522.10,804.77 523.60,805.21 525.10,805.64 526.60,806.07 528.10,806.49 529.60,806.90 531.10,807.31 532.60,807.72 534.10,808.12 535.60,808.51 537.10,808.90 538.60,809.28 540.10,809.66 541.60,810.03 543.10,810.39 544.60,810.76 546.10,811.11 547.60,811.46 549.10,811.81 550.60,812.15 552.10,812.49 553.60,812.82 555.10,813.15 556.60,813.47 558.10,813.79 559.60,814.11 561.10,814.42 562.60,814.72 564.10,815.02 565.60,815.32 567.10,815.62 568.60,815.91 570.10,816.19 571.60,816.47 573.10,816.75 574.60,817.02 576.10,817.29 577.60,817.56 579.10,817.82 580.60,818.08 582.10,818.34 583.60,818.59 585.10,818.84 586.60,819.08 588.10,819.32 589.60,819.56 591.10,819.80 592.60,820.03 594.10,820.26 595.60,820.48 597.10,820.71 598.60,820.92 600.10,821.14 601.60,821.35 603.10,821.56 604.60,821.77 606.10,821.98 607.60,822.18 609.10,822.38 610.60,822.57 612.10,822.77 613.60,822.96 615.10,823.15 616.60,823.33 618.10,823.51 619.60,823.69 621.10,823.87 622.60,824.05 624.10,824.22 625.60,824.39 627.10,824.56 628.60,824.73 630.10,824.89 631.60,825.05 633.10,825.21 634.60,825.37 636.10,825.52 637.60,825.68 639.10,825.83 640.60,825.98 642.10,826.12 643.60,826.27 645.10,826.41 646.60,826.55 648.10,826.69 649.60,826.82 651.10,826.96 652.60,827.09 654.10,827.22 655.60,827.35 657.10,827.48 658.60,827.61 660.10,827.73 661.60,827.85 663.10,827.97 664.60,828.09 666.10,828.21 667.60,828.33 669.10,828.44 670.60,828.55 672.10,828.66 673.60,828.77 675.10,828.88 676.60,828.99 678.10,829.09 679.60,829.20 681.10,829.30 682.60,829.40 683.40,829.45" fill="none" stroke="#000" stroke-width="1.8" stroke-linejoin="round" stroke-linecap="butt" />
<polyline points="152.60,836.20 152.84,835.51 153.09,834.81 153.33,834.12 153.58,833.43 153.83,832.73 154.08,832.04 154.33,831.35 154.59,830.66 154.85,829.97 155.11,829.28 155.37,828.59 155.63,827.90 155.90,827.21 156.17,826.52 156.44,825.84 156.71,825.15 156.98,824.46 157.26,823.78 157.54,823.09 157.82,822.41 158.10,821.72 158.39,821.04 158.67,820.36 158.96,819.67 159.25,818.99 159.55,818.31 159.84,817.63 160.14,816.95 160.44,816.27 160.74,815.60 161.04,814.92 161.35,814.24 161.65,813.57 161.96,812.89 162.27,812.22 162.59,811.55 162.90,810.87 163.22,810.20 163.54,809.53 163.86,808.86 164.18,808.19 164.51,807.52 164.84,806.86 165.16,806.19 165.50,805.53 165.83,804.86 166.17,804.20 166.50,803.54 166.84,802.88 167.18,802.22 167.53,801.56 167.87,800.90 168.22,800.24 168.57,799.58 168.92,798.93 169.28,798.28 169.63,797.62 169.99,796.97 170.35,796.32 170.71,795.67 171.08,795.02 171.44,794.38 171.81,793.73 172.18,793.08 172.55,792.44 172.93,791.80 173.30,791.16 173.68,790.52 174.06,789.88 174.44,789.24 174.83,788.61 175.21,787.97 175.60,787.34 175.99,786.71 176.38,786.07 176.78,785.45 177.18,784.82 177.57,784.19 177.97,783.57 178.38,782.94 178.78,782.32 179.19,781.70 179.60,781.08 180.01,780.46 180.42,779.84 180.83,779.23 181.25,778.62 181.67,778.00 182.09,777.39 182.51,776.78 182.93,776.18 183.36,775.57 183.79,774.97 184.22,774.36 184.65,773.76 185.09,773.16 185.52,772.57 185.96,771.97 186.40,771.38 186.84,770.78 187.29,770.19 187.73,769.60 188.18,769.01 188.63,768.43 189.09,767.84 189.54,767.26 190.00,766.68 190.45,766.10 190.92,765.52 191.38,764.95 191.84,764.38 192.31,763.80 192.78,763.23 193.25,762.67 193.72,762.10 194.19,761.54 194.67,760.97 195.15,760.41 195.63,759.86 196.11,759.30 196.59,758.74 197.08,758.19 197.57,757.64 198.06,757.09 198.55,756.55 199.05,756.00 199.54,755.46 200.04,754.92 200.54,754.38 201.04,753.85 201.55,753.31 202.05,752.78 202.56,752.25 203.07,751.72 203.58,751.20 204.09,750.67 204.61,750.15 205.13,749.63 205.65,749.12 206.17,748.60 206.69,748.09 207.22,747.58 207.75,747.07 208.28,746.56 208.81,746.06 209.34,745.56 209.88,745.06 210.42,744.56 210.95,744.07 211.50,743.58 212.04,743.09 212.59,742.60 213.13,742.12 213.68,741.64 214.23,741.16 214.79,740.68 215.34,740.20 215.90,739.73 216.46,739.26 217.02,738.79 217.58,738.33 218.15,737.87 218.71,737.41 219.28,736.95 219.85,736.49 220.43,736.04 221.00,735.59 221.58,735.14 222.16,734.70 222.74,734.26 223.32,733.82 223.90,733.38 224.49,732.95 225.08,732.52 225.67,732.09 226.26,731.66 226.86,731.24 227.45,730.82 228.05,730.40 228.65,729.99 229.25,729.57 229.86,729.16 230.46,728.76 231.07,728.35 231.68,727.95 232.29,727.55 232.90,727.16 233.52,726.76 234.14,726.37 234.76,725.99 235.38,725.60 236.00,725.22 236.62,724.84 237.25,724.46 237.88,724.09 238.51,723.72 239.14,723.35 239.77,722.99 240.41,722.63 241.04,722.27 241.68,721.91 242.32,721.56 242.96,721.20 243.61,720.86 244.25,720.51 244.90,720.17 245.55,719.83 246.19,719.49 246.85,719.16 247.50,718.83 248.15,718.50 248.81,718.17 249.47,717.85 250.13,717.53 250.79,717.21 251.45,716.90 252.11,716.59 252.78,716.28 253.45,715.97 254.11,715.67 254.78,715.37 255.46,715.07 256.13,714.78 256.80,714.49 257.48,714.20 258.16,713.91 258.83,713.63 259.51,713.35 260.19,713.07 260.88,712.80 261.56,712.53 262.25,712.26 262.93,711.99 263.62,711.73 264.31,711.47 265.00,711.22 265.69,710.96 266.38,710.71 267.08,710.46 267.77,710.22 268.47,709.97 269.17,709.74 269.87,709.50 270.57,709.27 271.27,709.04 271.97,708.81 272.68,708.58 273.38,708.36 274.09,708.14 274.80,707.93 275.50,707.71 276.21,707.50 276.92,707.30 277.64,707.09 278.35,706.89 279.06,706.69 279.78,706.50 280.49,706.31 281.21,706.12 281.93,705.93 282.65,705.75 283.37,705.57 284.09,705.39 284.81,705.21 285.53,705.04 286.26,704.87 286.98,704.71 287.71,704.55 288.44,704.39 289.16,704.23 289.89,704.08 290.62,703.93 291.35,703.78 292.08,703.63 292.81,703.49 293.55,703.35 294.28,703.22 295.01,703.08 295.75,702.96 296.48,702.83 297.22,702.71 297.96,702.58 298.70,702.47 299.44,702.35 300.18,702.24 300.92,702.13 301.66,702.03 302.40,701.93 303.14,701.83 303.88,701.73 304.63,701.64 305.37,701.55 306.12,701.46 306.86,701.38 307.61,701.29 308.36,701.22 309.10,701.14 309.85,701.07 310.60,701.00 312.10,702.98 313.60,704.93 315.10,706.85 316.60,708.75 318.10,710.61 319.60,712.45 321.10,714.26 322.60,716.05 324.10,717.81 325.60,719.54 327.10,721.25 328.60,722.94 330.10,724.60 331.60,726.23 333.10,727.84 334.60,729.43 336.10,730.99 337.60,732.54 339.10,734.06 340.60,735.55 342.10,737.03 343.60,738.48 345.10,739.91 346.60,741.32 348.10,742.72 349.60,744.09 351.10,745.44 352.60,746.77 354.10,748.08 355.60,749.37 357.10,750.64 358.60,751.90 360.10,753.14 361.60,754.35 363.10,755.56 364.60,756.74 366.10,757.90 367.60,759.05 369.10,760.18 370.60,761.30 372.10,762.40 373.60,763.48 375.10,764.55 376.60,765.60 378.10,766.64 379.60,767.66 381.10,768.67 382.60,769.66 384.10,770.64 385.60,771.60 387.10,772.55 388.60,773.48 390.10,774.40 391.60,775.31 393.10,776.21 394.60,777.09 396.10,777.96 397.60,778.81 399.10,779.66 400.60,780.49 402.10,781.31 403.60,782.11 405.10,782.91 406.60,783.69 408.10,784.47 409.60,785.23 411.10,785.98 412.60,786.72 414.10,787.44 415.60,788.16 417.10,788.87 418.60,789.57 420.10,790.25 421.60,790.93 423.10,791.60 424.60,792.25 426.10,792.90 427.60,793.54 429.10,794.17 430.60,794.79 432.10,795.40 433.60,796.00 435.10,796.59 436.60,797.17 438.10,797.75 439.60,798.32 441.10,798.88 442.60,799.43 444.10,799.97 445.60,800.50 447.10,801.03 448.60,801.55 450.10,802.06 451.60,802.57 453.10,803.06 454.60,803.55 456.10,804.03 457.60,804.51 459.10,804.98 460.60,805.44 462.10,805.90 463.60,806.34 465.10,806.79 466.60,807.22 468.10,807.65 469.60,808.07 471.10,808.49 472.60,808.90 474.10,809.30 475.60,809.70 477.10,810.09 478.60,810.48 480.10,810.86 481.60,811.24 483.10,811.61 484.60,811.97 486.10,812.33 487.60,812.69 489.10,813.04 490.60,813.38 492.10,813.72 493.60,814.05 495.10,814.38 496.60,814.71 498.10,815.03 499.60,815.34 501.10,815.65 502.60,815.96 504.10,816.26 505.60,816.56 507.10,816.85 508.60,817.14 510.10,817.42 511.60,817.70 513.10,817.98 514.60,818.25 516.10,818.52 517.60,818.78 519.10,819.04 520.60,819.30 522.10,819.55 523.60,819.80 525.10,820.04 526.60,820.29 528.10,820.52 529.60,820.76 531.10,820.99 532.60,821.22 534.10,821.44 535.60,821.66 537.10,821.88 538.60,822.10 540.10,822.31 541.60,822.52 543.10,822.72 544.60,822.92 546.10,823.12 547.60,823.32 549.10,823.51 550.60,823.71 552.10,823.89 553.60,824.08 555.10,824.26 556.60,824.44 558.10,824.62 559.60,824.79 561.10,824.97 562.60,825.14 564.10,825.30 565.60,825.47 567.10,825.63 568.60,825.79 570.10,825.95 571.60,826.11 573.10,826.26 574.60,826.41 576.10,826.56 577.60,826.70 579.10,826.85 580.60,826.99 582.10,827.13 583.60,827.27 585.10,827.41 586.60,827.54 588.10,827.67 589.60,827.80 591.10,827.93 592.60,828.06 594.10,828.18 595.60,828.31 597.10,828.43 598.60,828.55 600.10,828.66 601.60,828.78 603.10,828.89 604.60,829.01 606.10,829.12 607.60,829.23 609.10,829.33 610.60,829.44 612.10,829.54 613.60,829.65 615.10,829.75 616.60,829.85 618.10,829.95 619.60,830.04 621.10,830.14 622.60,830.23 624.10,830.33 625.60,830.42 627.10,830.51 628.60,830.60 630.10,830.69 631.60,830.77 633.10,830.86 634.60,830.94 636.10,831.02 637.60,831.11 639.10,831.19 640.60,831.26 642.10,831.34 643.60,831.42 645.10,831.49 646.60,831.57 648.10,831.64 649.60,831.71 651.10,831.79 652.60,831.86 654.10,831.93 655.60,831.99 657.10,832.06 658.60,832.13 660.10,832.19 661.60,832.26 663.10,832.32 664.60,832.38 666.10,832.44 667.60,832.51 669.10,832.57 670.60,832.62 672.10,832.68 673.60,832.74 675.10,832.80 676.60,832.85 678.10,832.91 679.60,832.96 681.10,833.01 682.60,833.07 683.40,833.09" fill="none" stroke="#000" stroke-width="1.7" stroke-linejoin="round" stroke-linecap="butt" />
<polyline points="152.60,836.20 152.97,835.70 153.34,835.20 153.71,834.70 154.09,834.21 154.46,833.71 154.84,833.22 155.22,832.73 155.60,832.25 155.98,831.76 156.36,831.27 156.75,830.79 157.14,830.31 157.52,829.83 157.92,829.35 158.31,828.88 158.70,828.40 159.09,827.93 159.49,827.46 159.89,826.99 160.29,826.53 160.69,826.06 161.09,825.60 161.50,825.13 161.90,824.67 162.31,824.22 162.72,823.76 163.13,823.30 163.54,822.85 163.95,822.40 164.37,821.95 164.78,821.50 165.20,821.06 165.62,820.61 166.04,820.17 166.46,819.73 166.89,819.29 167.31,818.85 167.74,818.42 168.17,817.98 168.60,817.55 169.03,817.12 169.46,816.69 169.89,816.26 170.33,815.84 170.77,815.41 171.20,814.99 171.64,814.57 172.08,814.15 172.53,813.73 172.97,813.32 173.41,812.91 173.86,812.49 174.31,812.08 174.76,811.67 175.21,811.27 175.66,810.86 176.11,810.46 176.56,810.06 177.02,809.66 177.48,809.26 177.94,808.86 178.39,808.46 178.86,808.07 179.32,807.68 179.78,807.29 180.25,806.90 180.71,806.51 181.18,806.13 181.65,805.74 182.12,805.36 182.59,804.98 183.06,804.60 183.53,804.22 184.01,803.85 184.48,803.48 184.96,803.10 185.44,802.73 185.92,802.36 186.40,802.00 186.88,801.63 187.36,801.27 187.85,800.90 188.33,800.54 188.82,800.18 189.31,799.82 189.80,799.47 190.29,799.11 190.78,798.76 191.27,798.41 191.76,798.06 192.26,797.71 192.75,797.37 193.25,797.02 193.75,796.68 194.25,796.34 194.75,796.00 195.25,795.66 195.75,795.32 196.26,794.98 196.76,794.65 197.27,794.32 197.77,793.99 198.28,793.66 198.79,793.33 199.30,793.01 199.81,792.68 200.32,792.36 200.83,792.04 201.35,791.72 201.86,791.40 202.38,791.08 202.90,790.77 203.41,790.45 203.93,790.14 204.45,789.83 204.97,789.52 205.50,789.22 206.02,788.91 206.54,788.61 207.07,788.30 207.59,788.00 208.12,787.70 208.65,787.40 209.18,787.11 209.71,786.81 210.24,786.52 210.77,786.23 211.30,785.94 211.83,785.65 212.37,785.36 212.90,785.07 213.44,784.79 213.97,784.51 214.51,784.23 215.05,783.95 215.59,783.67 216.13,783.39 216.67,783.12 217.21,782.84 217.76,782.57 218.30,782.30 218.84,782.03 219.39,781.76 219.93,781.49 220.48,781.23 221.03,780.97 221.58,780.70 222.13,780.44 222.68,780.18 223.23,779.93 223.78,779.67 224.33,779.42 224.88,779.16 225.44,778.91 225.99,778.66 226.55,778.41 227.10,778.17 227.66,777.92 228.22,777.67 228.78,777.43 229.33,777.19 229.89,776.95 230.45,776.71 231.02,776.47 231.58,776.24 232.14,776.00 232.70,775.77 233.27,775.54 233.83,775.31 234.40,775.08 234.96,774.85 235.53,774.63 236.09,774.40 236.66,774.18 237.23,773.96 237.80,773.74 238.37,773.52 238.94,773.30 239.51,773.09 240.08,772.87 240.65,772.66 241.22,772.45 241.80,772.24 242.37,772.03 242.95,771.82 243.52,771.62 244.10,771.41 244.67,771.21 245.25,771.01 245.82,770.81 246.40,770.61 246.98,770.41 247.56,770.21 248.14,770.02 248.72,769.83 249.30,769.63 249.88,769.44 250.46,769.25 251.04,769.07 251.62,768.88 252.20,768.69 252.79,768.51 253.37,768.33 253.95,768.15 254.54,767.97 255.12,767.79 255.71,767.61 256.29,767.43 256.88,767.26 257.47,767.09 258.05,766.92 258.64,766.75 259.23,766.58 259.82,766.41 260.40,766.24 260.99,766.08 261.58,765.91 262.17,765.75 262.76,765.59 263.35,765.43 263.94,765.27 264.53,765.11 265.12,764.96 265.72,764.80 266.31,764.65 266.90,764.50 267.49,764.35 268.08,764.20 268.68,764.05 269.27,763.90 269.87,763.76 270.46,763.61 271.05,763.47 271.65,763.33 272.24,763.19 272.84,763.05 273.43,762.91 274.03,762.78 274.63,762.64 275.22,762.51 275.82,762.38 276.41,762.24 277.01,762.11 277.61,761.99 278.21,761.86 278.80,761.73 279.40,761.61 280.00,761.48 280.60,761.36 281.19,761.24 281.79,761.12 282.39,761.00 282.99,760.88 283.59,760.77 284.19,760.65 284.79,760.54 285.39,760.43 285.99,760.32 286.59,760.21 287.19,760.10 287.78,759.99 288.38,759.88 288.98,759.78 289.58,759.67 290.18,759.57 290.79,759.47 291.39,759.37 291.99,759.27 292.59,759.17 293.19,759.08 293.79,758.98 294.39,758.89 294.99,758.80 295.59,758.70 296.19,758.61 296.79,758.52 297.39,758.44 297.99,758.35 298.59,758.26 299.19,758.18 299.79,758.10 300.40,758.01 301.00,757.93 301.60,757.85 302.20,757.78 302.80,757.70 303.40,757.62 304.00,757.55 304.60,757.47 305.20,757.40 305.80,757.33 306.40,757.26 307.00,757.19 307.60,757.12 308.20,757.06 308.80,756.99 309.40,756.93 310.00,756.86 310.60,756.80 312.10,757.98 313.60,759.14 315.10,760.28 316.60,761.40 318.10,762.51 319.60,763.60 321.10,764.68 322.60,765.74 324.10,766.78 325.60,767.81 327.10,768.83 328.60,769.83 330.10,770.81 331.60,771.78 333.10,772.74 334.60,773.68 336.10,774.61 337.60,775.52 339.10,776.42 340.60,777.31 342.10,778.18 343.60,779.04 345.10,779.89 346.60,780.73 348.10,781.55 349.60,782.36 351.10,783.16 352.60,783.95 354.10,784.73 355.60,785.49 357.10,786.24 358.60,786.99 360.10,787.72 361.60,788.44 363.10,789.15 364.60,789.85 366.10,790.54 367.60,791.22 369.10,791.88 370.60,792.54 372.10,793.19 373.60,793.83 375.10,794.46 376.60,795.08 378.10,795.70 379.60,796.30 381.10,796.89 382.60,797.48 384.10,798.06 385.60,798.62 387.10,799.18 388.60,799.74 390.10,800.28 391.60,800.81 393.10,801.34 394.60,801.86 396.10,802.37 397.60,802.88 399.10,803.38 400.60,803.87 402.10,804.35 403.60,804.82 405.10,805.29 406.60,805.75 408.10,806.21 409.60,806.66 411.10,807.10 412.60,807.53 414.10,807.96 415.60,808.38 417.10,808.80 418.60,809.21 420.10,809.61 421.60,810.01 423.10,810.40 424.60,810.79 426.10,811.17 427.60,811.54 429.10,811.91 430.60,812.28 432.10,812.64 433.60,812.99 435.10,813.34 436.60,813.68 438.10,814.02 439.60,814.35 441.10,814.68 442.60,815.00 444.10,815.32 445.60,815.63 447.10,815.94 448.60,816.25 450.10,816.55 451.60,816.84 453.10,817.13 454.60,817.42 456.10,817.70 457.60,817.98 459.10,818.26 460.60,818.53 462.10,818.79 463.60,819.06 465.10,819.32 466.60,819.57 468.10,819.82 469.60,820.07 471.10,820.31 472.60,820.55 474.10,820.79 475.60,821.02 477.10,821.25 478.60,821.48 480.10,821.70 481.60,821.92 483.10,822.14 484.60,822.35 486.10,822.56 487.60,822.77 489.10,822.97 490.60,823.17 492.10,823.37 493.60,823.56 495.10,823.76 496.60,823.95 498.10,824.13 499.60,824.32 501.10,824.50 502.60,824.68 504.10,824.85 505.60,825.03 507.10,825.20 508.60,825.36 510.10,825.53 511.60,825.69 513.10,825.85 514.60,826.01 516.10,826.17 517.60,826.32 519.10,826.47 520.60,826.62 522.10,826.77 523.60,826.91 525.10,827.06 526.60,827.20 528.10,827.34 529.60,827.47 531.10,827.61 532.60,827.74 534.10,827.87 535.60,828.00 537.10,828.13 538.60,828.25 540.10,828.37 541.60,828.50 543.10,828.62 544.60,828.73 546.10,828.85 547.60,828.96 549.10,829.08 550.60,829.19 552.10,829.30 553.60,829.40 555.10,829.51 556.60,829.61 558.10,829.72 559.60,829.82 561.10,829.92 562.60,830.02 564.10,830.11 565.60,830.21 567.10,830.30 568.60,830.40 570.10,830.49 571.60,830.58 573.10,830.67 574.60,830.75 576.10,830.84 577.60,830.93 579.10,831.01 580.60,831.09 582.10,831.17 583.60,831.25 585.10,831.33 586.60,831.41 588.10,831.49 589.60,831.56 591.10,831.64 592.60,831.71 594.10,831.78 595.60,831.85 597.10,831.92 598.60,831.99 600.10,832.06 601.60,832.13 603.10,832.19 604.60,832.26 606.10,832.32 607.60,832.38 609.10,832.45 610.60,832.51 612.10,832.57 613.60,832.63 615.10,832.69 616.60,832.74 618.10,832.80 619.60,832.86 621.10,832.91 622.60,832.97 624.10,833.02 625.60,833.07 627.10,833.12 628.60,833.18 630.10,833.23 631.60,833.28 633.10,833.32 634.60,833.37 636.10,833.42 637.60,833.47 639.10,833.51 640.60,833.56 642.10,833.60 643.60,833.65 645.10,833.69 646.60,833.73 648.10,833.78 649.60,833.82 651.10,833.86 652.60,833.90 654.10,833.94 655.60,833.98 657.10,834.02 658.60,834.06 660.10,834.09 661.60,834.13 663.10,834.17 664.60,834.20 666.10,834.24 667.60,834.27 669.10,834.31 670.60,834.34 672.10,834.37 673.60,834.41 675.10,834.44 676.60,834.47 678.10,834.50 679.60,834.53 681.10,834.56 682.60,834.59 683.40,834.61" fill="none" stroke="#000" stroke-width="1.7" stroke-linejoin="round" stroke-linecap="butt" />
<polyline points="150.20,836.00 154.40,823.00 160.00,823.80 171.30,824.40 213.60,821.80 255.80,819.60 306.00,817.70 308.50,817.20 310.00,818.60 312.00,819.20 313.50,819.37 315.00,819.54 316.50,819.71 318.00,819.88 319.50,820.05 321.00,820.21 322.50,820.38 324.00,820.54 325.50,820.70 327.00,820.86 328.50,821.01 330.00,821.17 331.50,821.32 333.00,821.47 334.50,821.62 336.00,821.77 337.50,821.92 339.00,822.07 340.50,822.21 342.00,822.35 343.50,822.50 345.00,822.64 346.50,822.78 348.00,822.91 349.50,823.05 351.00,823.18 352.50,823.32 354.00,823.45 355.50,823.58 357.00,823.71 358.50,823.84 360.00,823.97 361.50,824.09 363.00,824.22 364.50,824.34 366.00,824.46 367.50,824.58 369.00,824.70 370.50,824.82 372.00,824.94 373.50,825.05 375.00,825.17 376.50,825.28 378.00,825.39 379.50,825.51 381.00,825.62 382.50,825.72 384.00,825.83 385.50,825.94 387.00,826.05 388.50,826.15 390.00,826.26 391.50,826.36 393.00,826.46 394.50,826.56 396.00,826.66 397.50,826.76 399.00,826.86 400.50,826.95 402.00,827.05 403.50,827.15 405.00,827.24 406.50,827.33 408.00,827.43 409.50,827.52 411.00,827.61 412.50,827.70 414.00,827.78 415.50,827.87 417.00,827.96 418.50,828.05 420.00,828.13 421.50,828.21 423.00,828.30 424.50,828.38 426.00,828.46 427.50,828.54 429.00,828.62 430.50,828.70 432.00,828.78 433.50,828.86 435.00,828.94 436.50,829.01 438.00,829.09 439.50,829.16 441.00,829.24 442.50,829.31 444.00,829.38 445.50,829.45 447.00,829.53 448.50,829.60 450.00,829.67 451.50,829.73 453.00,829.80 454.50,829.87 456.00,829.94 457.50,830.00 459.00,830.07 460.50,830.13 462.00,830.20 463.50,830.26 465.00,830.33 466.50,830.39 468.00,830.45 469.50,830.51 471.00,830.57 472.50,830.63 474.00,830.69 475.50,830.75 477.00,830.81 478.50,830.87 480.00,830.92 481.50,830.98 483.00,831.04 484.50,831.09 486.00,831.15 487.50,831.20 489.00,831.25 490.50,831.31 492.00,831.36 493.50,831.41 495.00,831.46 496.50,831.51 498.00,831.56 499.50,831.61 501.00,831.66 502.50,831.71 504.00,831.76 505.50,831.81 507.00,831.86 508.50,831.91 510.00,831.95 511.50,832.00 513.00,832.04 514.50,832.09 516.00,832.13 517.50,832.18 519.00,832.22 520.50,832.27 522.00,832.31 523.50,832.35 525.00,832.39 526.50,832.44 528.00,832.48 529.50,832.52 531.00,832.56 532.50,832.60 534.00,832.64 535.50,832.68 537.00,832.72 538.50,832.76 540.00,832.79 541.50,832.83 543.00,832.87 544.50,832.91 546.00,832.94 547.50,832.98 549.00,833.02 550.50,833.05 552.00,833.09 553.50,833.12 555.00,833.16 556.50,833.19 558.00,833.22 559.50,833.26 561.00,833.29 562.50,833.32 564.00,833.36 565.50,833.39 567.00,833.42 568.50,833.45 570.00,833.48 571.50,833.52 573.00,833.55 574.50,833.58 576.00,833.61 577.50,833.64 579.00,833.67 580.50,833.69 582.00,833.72 583.50,833.75 585.00,833.78 586.50,833.81 588.00,833.84 589.50,833.86 591.00,833.89 592.50,833.92 594.00,833.94 595.50,833.97 597.00,834.00 598.50,834.02 600.00,834.05 601.50,834.07 603.00,834.10 604.50,834.12 606.00,834.15 607.50,834.17 609.00,834.20 610.50,834.22 612.00,834.25 613.50,834.27 615.00,834.29 616.50,834.31 618.00,834.34 619.50,834.36 621.00,834.38 622.50,834.40 624.00,834.43 625.50,834.45 627.00,834.47 628.50,834.49 630.00,834.51 631.50,834.53 633.00,834.55 634.50,834.57 636.00,834.59 637.50,834.61 639.00,834.63 640.50,834.65 642.00,834.67 643.50,834.69 645.00,834.71 646.50,834.73 648.00,834.75 649.50,834.77 651.00,834.78 652.50,834.80 654.00,834.82 655.50,834.84 657.00,834.86 658.50,834.87 660.00,834.89 661.50,834.91 663.00,834.92 664.50,834.94 666.00,834.96 667.50,834.97 669.00,834.99 670.50,835.01 672.00,835.02 673.50,835.04 675.00,835.05 676.50,835.07 678.00,835.08 679.50,835.10 681.00,835.11 682.50,835.13 683.40,835.14" fill="none" stroke="#000" stroke-width="1.5" stroke-linejoin="round" stroke-linecap="butt" />
<polyline points="153.40,836.20 154.40,835.99 155.40,835.79 156.40,835.58 157.40,835.37 158.40,835.16 159.40,834.94 160.40,834.73 161.40,834.51 162.40,834.29 163.40,834.07 164.40,833.85 165.40,833.63 166.40,833.41 167.40,833.19 168.40,832.96 169.40,832.73 170.40,832.51 171.40,832.28 172.40,832.04 173.40,831.81 174.40,831.56 175.40,831.32 176.40,831.07 177.40,830.82 178.40,830.57 179.40,830.32 180.40,830.07 181.40,829.83 182.40,829.59 183.40,829.35 184.40,829.12 185.40,828.90 186.40,828.68 187.40,828.46 188.40,828.24 189.40,828.02 190.40,827.81 191.40,827.59 192.40,827.38 193.40,827.18 194.40,826.98 195.40,826.79 196.40,826.61 197.40,826.43 198.40,826.27 199.40,826.11 200.40,825.97 201.40,825.83 202.40,825.69 203.40,825.56 204.40,825.42 205.40,825.29 206.40,825.17 207.40,825.05 208.40,824.93 209.40,824.81 210.40,824.69 211.40,824.58 212.40,824.47 213.40,824.36 214.40,824.25 215.40,824.15 216.40,824.05 217.40,823.95 218.40,823.85 219.40,823.75 220.40,823.66 221.40,823.56 222.40,823.47 223.40,823.38 224.40,823.29 225.40,823.20 226.40,823.11 227.40,823.03 228.40,822.94 229.40,822.85 230.40,822.77 231.40,822.69 232.40,822.60 233.40,822.52 234.40,822.44 235.40,822.36 236.40,822.28 237.40,822.20 238.40,822.12 239.40,822.05 240.40,821.97 241.40,821.90 242.40,821.83 243.40,821.75 244.40,821.68 245.40,821.62 246.40,821.55 247.40,821.48 248.40,821.42 249.40,821.36 250.40,821.30 251.40,821.24 252.40,821.18 253.40,821.13 254.40,821.07 255.40,821.02 256.40,820.97 257.40,820.92 258.40,820.87 259.40,820.82 260.40,820.77 261.40,820.72 262.40,820.67 263.40,820.63 264.40,820.58 265.40,820.53 266.40,820.48 267.40,820.44 268.40,820.39 269.40,820.34 270.40,820.30 271.40,820.25 272.40,820.21 273.40,820.16 274.40,820.12 275.40,820.07 276.40,820.03 277.40,819.99 278.40,819.94 279.40,819.90 280.40,819.86 281.40,819.82 282.40,819.78 283.40,819.74 284.40,819.70 285.40,819.67 286.40,819.63 287.40,819.59 288.40,819.56 289.40,819.52 290.40,819.49 291.40,819.46 292.40,819.42 293.40,819.39 294.40,819.36 295.40,819.33 296.40,819.30 297.40,819.27 298.40,819.25 299.40,819.22 300.40,819.20 301.40,819.17 302.40,819.15 303.40,819.13 304.40,819.11 305.40,819.09 306.40,819.07 307.40,819.05 308.40,819.03 309.40,819.02 310.40,819.00 310.60,819.00 312.00,820.80 313.50,821.00 315.00,821.21 316.50,821.41 318.00,821.60 319.50,821.80 321.00,821.99 322.50,822.18 324.00,822.37 325.50,822.55 327.00,822.73 328.50,822.91 330.00,823.09 331.50,823.26 333.00,823.44 334.50,823.61 336.00,823.78 337.50,823.94 339.00,824.11 340.50,824.27 342.00,824.43 343.50,824.59 345.00,824.74 346.50,824.90 348.00,825.05 349.50,825.20 351.00,825.34 352.50,825.49 354.00,825.63 355.50,825.78 357.00,825.92 358.50,826.05 360.00,826.19 361.50,826.33 363.00,826.46 364.50,826.59 366.00,826.72 367.50,826.85 369.00,826.98 370.50,827.10 372.00,827.22 373.50,827.34 375.00,827.46 376.50,827.58 378.00,827.70 379.50,827.81 381.00,827.93 382.50,828.04 384.00,828.15 385.50,828.26 387.00,828.37 388.50,828.48 390.00,828.58 391.50,828.69 393.00,828.79 394.50,828.89 396.00,828.99 397.50,829.09 399.00,829.19 400.50,829.28 402.00,829.38 403.50,829.47 405.00,829.56 406.50,829.65 408.00,829.74 409.50,829.83 411.00,829.92 412.50,830.01 414.00,830.09 415.50,830.18 417.00,830.26 418.50,830.34 420.00,830.42 421.50,830.50 423.00,830.58 424.50,830.66 426.00,830.74 427.50,830.81 429.00,830.89 430.50,830.96 432.00,831.03 433.50,831.11 435.00,831.18 436.50,831.25 438.00,831.32 439.50,831.39 441.00,831.45 442.50,831.52 444.00,831.59 445.50,831.65 447.00,831.72 448.50,831.78 450.00,831.84 451.50,831.90 453.00,831.96 454.50,832.02 456.00,832.08 457.50,832.14 459.00,832.20 460.50,832.26 462.00,832.31 463.50,832.37 465.00,832.42 466.50,832.48 468.00,832.53 469.50,832.58 471.00,832.64 472.50,832.69 474.00,832.74 475.50,832.79 477.00,832.84 478.50,832.89 480.00,832.93 481.50,832.98 483.00,833.03 484.50,833.07 486.00,833.12 487.50,833.17 489.00,833.21 490.50,833.25 492.00,833.30 493.50,833.34 495.00,833.38 496.50,833.42 498.00,833.47 499.50,833.51 501.00,833.55 502.50,833.59 504.00,833.62 505.50,833.66 507.00,833.70 508.50,833.74 510.00,833.78 511.50,833.81 513.00,833.85 514.50,833.88 516.00,833.92 517.50,833.95 519.00,833.99 520.50,834.02 522.00,834.06 523.50,834.09 525.00,834.12 526.50,834.15 528.00,834.18 529.50,834.22 531.00,834.25 532.50,834.28 534.00,834.31 535.50,834.34 537.00,834.37 538.50,834.40 540.00,834.42 541.50,834.45 543.00,834.48 544.50,834.51 546.00,834.53 547.50,834.56 549.00,834.59 550.50,834.61 552.00,834.64 553.50,834.67 555.00,834.69 556.50,834.72 558.00,834.74 559.50,834.76 561.00,834.79 562.50,834.81 564.00,834.83 565.50,834.86 567.00,834.88 568.50,834.90 570.00,834.92 571.50,834.95 573.00,834.97 574.50,834.99 576.00,835.01 577.50,835.03 579.00,835.05 580.50,835.07 582.00,835.09 583.50,835.11 585.00,835.13 586.50,835.15 588.00,835.17 589.50,835.19 591.00,835.20 592.50,835.22 594.00,835.24 595.50,835.26 597.00,835.27 598.50,835.29 600.00,835.31 601.50,835.33 603.00,835.34 604.50,835.36 606.00,835.37 607.50,835.39 609.00,835.41 610.50,835.42 612.00,835.44 613.50,835.45 615.00,835.47 616.50,835.48 618.00,835.50 619.50,835.51 621.00,835.52 622.50,835.54 624.00,835.55 625.50,835.57 627.00,835.58 628.50,835.59 630.00,835.61 631.50,835.62 633.00,835.63 634.50,835.64 636.00,835.66 637.50,835.67 639.00,835.68 640.50,835.69 642.00,835.70 643.50,835.72 645.00,835.73 646.50,835.74 648.00,835.75 649.50,835.76 651.00,835.77 652.50,835.78 654.00,835.79 655.50,835.80 657.00,835.81 658.50,835.82 660.00,835.83 661.50,835.84 663.00,835.85 664.50,835.86 666.00,835.87 667.50,835.88 669.00,835.89 670.50,835.90 672.00,835.91 673.50,835.92 675.00,835.93 676.50,835.94 678.00,835.94 679.50,835.95 681.00,835.96 682.50,835.97 683.40,835.97" fill="none" stroke="#000" stroke-width="1.5" stroke-linejoin="round" stroke-linecap="butt" />
<polyline points="153.40,836.20 154.40,836.13 155.40,836.07 156.40,836.00 157.40,835.93 158.40,835.86 159.40,835.79 160.40,835.72 161.40,835.65 162.40,835.58 163.40,835.50 164.40,835.43 165.40,835.35 166.40,835.28 167.40,835.20 168.40,835.12 169.40,835.05 170.40,834.97 171.40,834.89 172.40,834.81 173.40,834.73 174.40,834.64 175.40,834.56 176.40,834.48 177.40,834.39 178.40,834.31 179.40,834.22 180.40,834.14 181.40,834.05 182.40,833.96 183.40,833.88 184.40,833.79 185.40,833.70 186.40,833.61 187.40,833.51 188.40,833.42 189.40,833.31 190.40,833.21 191.40,833.10 192.40,832.99 193.40,832.88 194.40,832.77 195.40,832.66 196.40,832.54 197.40,832.43 198.40,832.31 199.40,832.20 200.40,832.08 201.40,831.97 202.40,831.86 203.40,831.75 204.40,831.64 205.40,831.53 206.40,831.43 207.40,831.33 208.40,831.23 209.40,831.14 210.40,831.05 211.40,830.97 212.40,830.89 213.40,830.81 214.40,830.74 215.40,830.67 216.40,830.61 217.40,830.54 218.40,830.47 219.40,830.41 220.40,830.34 221.40,830.28 222.40,830.21 223.40,830.15 224.40,830.09 225.40,830.03 226.40,829.97 227.40,829.91 228.40,829.85 229.40,829.80 230.40,829.74 231.40,829.69 232.40,829.63 233.40,829.58 234.40,829.53 235.40,829.47 236.40,829.42 237.40,829.37 238.40,829.32 239.40,829.28 240.40,829.23 241.40,829.18 242.40,829.14 243.40,829.09 244.40,829.05 245.40,829.00 246.40,828.96 247.40,828.92 248.40,828.88 249.40,828.84 250.40,828.80 251.40,828.76 252.40,828.72 253.40,828.69 254.40,828.65 255.40,828.61 256.40,828.58 257.40,828.54 258.40,828.51 259.40,828.48 260.40,828.44 261.40,828.41 262.40,828.37 263.40,828.34 264.40,828.31 265.40,828.27 266.40,828.24 267.40,828.21 268.40,828.18 269.40,828.14 270.40,828.11 271.40,828.08 272.40,828.05 273.40,828.02 274.40,827.99 275.40,827.96 276.40,827.93 277.40,827.90 278.40,827.87 279.40,827.84 280.40,827.81 281.40,827.78 282.40,827.76 283.40,827.73 284.40,827.70 285.40,827.68 286.40,827.65 287.40,827.62 288.40,827.60 289.40,827.58 290.40,827.55 291.40,827.53 292.40,827.51 293.40,827.48 294.40,827.46 295.40,827.44 296.40,827.42 297.40,827.40 298.40,827.38 299.40,827.36 300.40,827.34 301.40,827.33 302.40,827.31 303.40,827.29 304.40,827.28 305.40,827.26 306.40,827.25 307.40,827.24 308.40,827.22 309.40,827.21 310.40,827.20 310.60,827.20 312.10,827.29 313.60,827.37 315.10,827.46 316.60,827.55 318.10,827.63 319.60,827.71 321.10,827.80 322.60,827.88 324.10,827.96 325.60,828.04 327.10,828.12 328.60,828.20 330.10,828.28 331.60,828.36 333.10,828.43 334.60,828.51 336.10,828.58 337.60,828.66 339.10,828.73 340.60,828.81 342.10,828.88 343.60,828.95 345.10,829.02 346.60,829.09 348.10,829.16 349.60,829.23 351.10,829.30 352.60,829.37 354.10,829.44 355.60,829.50 357.10,829.57 358.60,829.64 360.10,829.70 361.60,829.77 363.10,829.83 364.60,829.89 366.10,829.96 367.60,830.02 369.10,830.08 370.60,830.14 372.10,830.20 373.60,830.26 375.10,830.32 376.60,830.38 378.10,830.44 379.60,830.49 381.10,830.55 382.60,830.61 384.10,830.66 385.60,830.72 387.10,830.77 388.60,830.83 390.10,830.88 391.60,830.93 393.10,830.99 394.60,831.04 396.10,831.09 397.60,831.14 399.10,831.19 400.60,831.24 402.10,831.29 403.60,831.34 405.10,831.39 406.60,831.44 408.10,831.49 409.60,831.54 411.10,831.58 412.60,831.63 414.10,831.68 415.60,831.72 417.10,831.77 418.60,831.81 420.10,831.86 421.60,831.90 423.10,831.95 424.60,831.99 426.10,832.03 427.60,832.08 429.10,832.12 430.60,832.16 432.10,832.20 433.60,832.24 435.10,832.28 436.60,832.32 438.10,832.36 439.60,832.40 441.10,832.44 442.60,832.48 444.10,832.52 445.60,832.56 447.10,832.59 448.60,832.63 450.10,832.67 451.60,832.71 453.10,832.74 454.60,832.78 456.10,832.81 457.60,832.85 459.10,832.88 460.60,832.92 462.10,832.95 463.60,832.99 465.10,833.02 466.60,833.05 468.10,833.09 469.60,833.12 471.10,833.15 472.60,833.18 474.10,833.22 475.60,833.25 477.10,833.28 478.60,833.31 480.10,833.34 481.60,833.37 483.10,833.40 484.60,833.43 486.10,833.46 487.60,833.49 489.10,833.52 490.60,833.55 492.10,833.58 493.60,833.60 495.10,833.63 496.60,833.66 498.10,833.69 499.60,833.72 501.10,833.74 502.60,833.77 504.10,833.80 505.60,833.82 507.10,833.85 508.60,833.87 510.10,833.90 511.60,833.92 513.10,833.95 514.60,833.97 516.10,834.00 517.60,834.02 519.10,834.05 520.60,834.07 522.10,834.09 523.60,834.12 525.10,834.14 526.60,834.16 528.10,834.19 529.60,834.21 531.10,834.23 532.60,834.25 534.10,834.27 535.60,834.30 537.10,834.32 538.60,834.34 540.10,834.36 541.60,834.38 543.10,834.40 544.60,834.42 546.10,834.44 547.60,834.46 549.10,834.48 550.60,834.50 552.10,834.52 553.60,834.54 555.10,834.56 556.60,834.58 558.10,834.60 559.60,834.62 561.10,834.64 562.60,834.65 564.10,834.67 565.60,834.69 567.10,834.71 568.60,834.73 570.10,834.74 571.60,834.76 573.10,834.78 574.60,834.79 576.10,834.81 577.60,834.83 579.10,834.84 580.60,834.86 582.10,834.88 583.60,834.89 585.10,834.91 586.60,834.93 588.10,834.94 589.60,834.96 591.10,834.97 592.60,834.99 594.10,835.00 595.60,835.02 597.10,835.03 598.60,835.05 600.10,835.06 601.60,835.08 603.10,835.09 604.60,835.10 606.10,835.12 607.60,835.13 609.10,835.14 610.60,835.16 612.10,835.17 613.60,835.19 615.10,835.20 616.60,835.21 618.10,835.22 619.60,835.24 621.10,835.25 622.60,835.26 624.10,835.28 625.60,835.29 627.10,835.30 628.60,835.31 630.10,835.32 631.60,835.34 633.10,835.35 634.60,835.36 636.10,835.37 637.60,835.38 639.10,835.39 640.60,835.40 642.10,835.42 643.60,835.43 645.10,835.44 646.60,835.45 648.10,835.46 649.60,835.47 651.10,835.48 652.60,835.49 654.10,835.50 655.60,835.51 657.10,835.52 658.60,835.53 660.10,835.54 661.60,835.55 663.10,835.56 664.60,835.57 666.10,835.58 667.60,835.59 669.10,835.60 670.60,835.61 672.10,835.62 673.60,835.63 675.10,835.64 676.60,835.65 678.10,835.65 679.60,835.66 681.10,835.67 682.60,835.68 683.40,835.69" fill="none" stroke="#000" stroke-width="1.5" stroke-linejoin="round" stroke-linecap="butt" />
</svg>
</body></html>
